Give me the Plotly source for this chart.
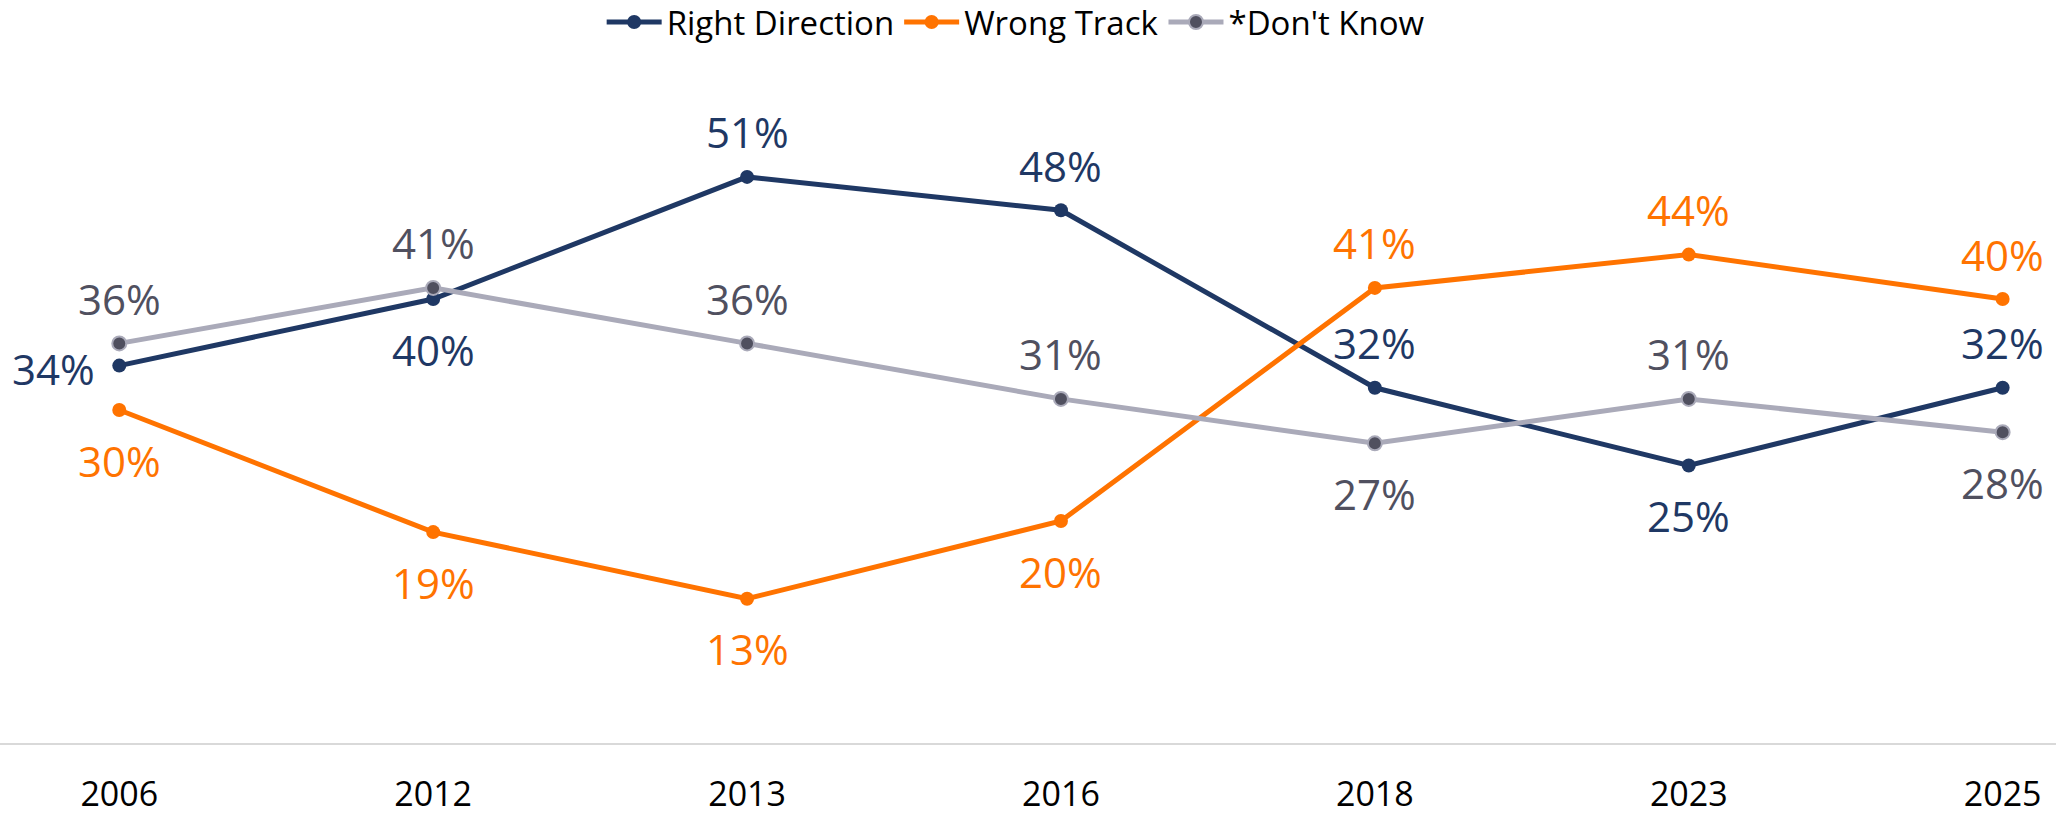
import plotly.graph_objects as go

years = ["2006", "2012", "2013", "2016", "2018", "2023", "2025"]
right_direction = [34, 40, 51, 48, 32, 25, 32]
wrong_track = [30, 19, 13, 20, 41, 44, 40]
dont_know = [36, 41, 36, 31, 27, 31, 28]

# label placement per point: "a" above, "b" below, "l" left
rd_pos = ["l", "b", "a", "a", "a", "b", "a"]
wt_pos = ["b", "b", "b", "b", "a", "a", "a"]
dk_pos = ["a", "a", "a", "a", "b", "a", "b"]

NAVY = "#1F3864"
ORANGE = "#FF7300"
GRAY_LINE = "#AAAAB9"
GRAY_MARK = "#50505F"
FONT = "Open Sans"

fig = go.Figure()
fig.add_trace(go.Scatter(
    x=years, y=right_direction, name="Right Direction", mode="lines+markers",
    line=dict(color=NAVY, width=5), marker=dict(color=NAVY, size=14),
))
fig.add_trace(go.Scatter(
    x=years, y=wrong_track, name="Wrong Track", mode="lines+markers",
    line=dict(color=ORANGE, width=5), marker=dict(color=ORANGE, size=14),
))
fig.add_trace(go.Scatter(
    x=years, y=dont_know, name="*Don't Know", mode="lines+markers",
    line=dict(color=GRAY_LINE, width=5),
    marker=dict(color=GRAY_MARK, size=14, line=dict(color=GRAY_LINE, width=2)),
))

annotations = []
for vals, poss, col in [(right_direction, rd_pos, NAVY),
                        (wrong_track, wt_pos, ORANGE),
                        (dont_know, dk_pos, GRAY_MARK)]:
    for i, (v, p) in enumerate(zip(vals, poss)):
        a = dict(x=i, y=v, xref="x", yref="y", text=f"{v}%", showarrow=False,
                 font=dict(family=FONT, size=42, color=col), yanchor="middle")
        if p == "a":
            a.update(xanchor="center", yshift=45)
        elif p == "b":
            a.update(xanchor="center", yshift=-50)
        else:
            a.update(xanchor="right", xshift=-22, yshift=-3)
        annotations.append(a)

fig.update_layout(
    width=2056, height=817,
    margin=dict(l=0, r=0, t=77, b=74),
    paper_bgcolor="white", plot_bgcolor="white",
    font=dict(family=FONT, color="black"),
    showlegend=True,
    legend=dict(orientation="h", xref="container", yref="container",
                x=0.494, xanchor="center", y=0.973, yanchor="middle",
                font=dict(family=FONT, size=33, color="black"),
                itemwidth=55, tracegroupgap=0, bgcolor="rgba(0,0,0,0)"),
    annotations=annotations,
    xaxis=dict(type="category", range=[-0.38, 6.17], showgrid=False,
               showline=True, linecolor="#D9D9D9", linewidth=2,
               ticks="", ticklabelstandoff=20, automargin=False,
               tickfont=dict(family=FONT, size=34, color="black"),
               zeroline=False, fixedrange=True),
    yaxis=dict(range=[0, 60], visible=False, showgrid=False, zeroline=False,
               automargin=False, fixedrange=True),
)

fig.write_html("out.html",
               config={"displayModeBar": False},
               post_script="document.body.style.margin='0';document.body.style.padding='0';")
